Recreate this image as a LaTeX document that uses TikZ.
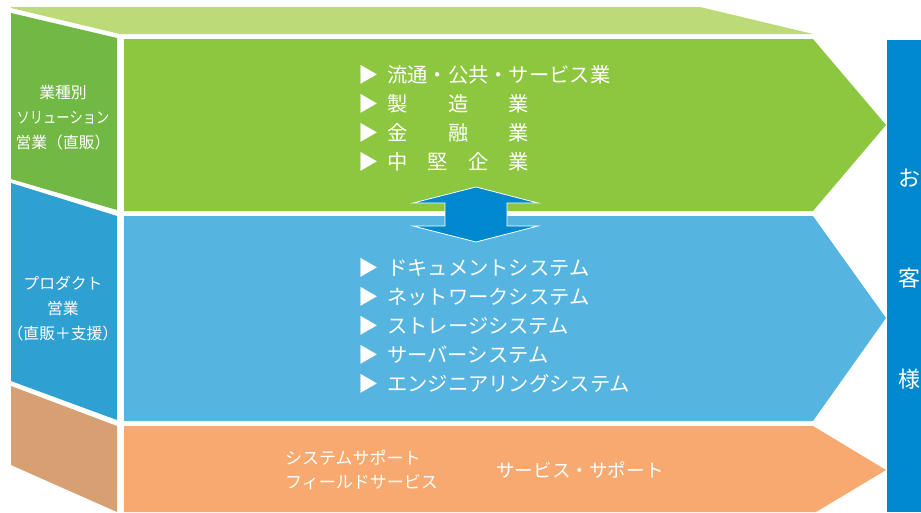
\documentclass[tikz,border=0pt]{standalone}
\usepackage{fontspec}
\setmainfont{Noto Sans CJK JP}
\definecolor{bandgreen}{HTML}{BDDA78}
\definecolor{sidegreen}{HTML}{72B844}
\definecolor{maingreen}{HTML}{8DC63F}
\definecolor{sideblue}{HTML}{2FA0D2}
\definecolor{mainblue}{HTML}{55B5E0}
\definecolor{sideorange}{HTML}{D7A072}
\definecolor{mainorange}{HTML}{F8A96F}
\definecolor{deepblue}{HTML}{0088CE}
\begin{document}
\begin{tikzpicture}[x=1pt,y=-1pt,
  txt/.style={text=white,inner sep=0pt},
  item/.style={txt,anchor=west,font=\fontsize{20.3}{22}\selectfont},
  side/.style={txt,align=center,font=\fontsize{15.8}{25}\selectfont},
  cust/.style={txt,font=\fontsize{22}{24}\selectfont}]
\useasboundingbox (0,0) rectangle (921,512);
\fill[white] (0,0) rectangle (921,512);
% top band and side panels
\fill[bandgreen] (11,7) -- (700,7) -- (813,34) -- (120,34) -- (11,8) -- cycle;
\fill[sidegreen] (11,13) -- (117,38) -- (117,210) -- (11,179) -- cycle;
\fill[sideblue] (11,183) -- (117,216) -- (117,420) -- (11,381) -- cycle;
\fill[sideorange] (11,386) -- (117,426) -- (117,512) -- (11,465) -- cycle;
% main arrows
\fill[maingreen] (124,39) -- (813,39) -- (886,125) -- (813,211) -- (124,211) -- cycle;
\fill[mainblue] (124,216) -- (813,216) -- (886,318) -- (813,421) -- (124,421) -- cycle;
\fill[mainorange] (124,426) -- (813,426) -- (886,470) -- (816,512) -- (124,512) -- cycle;
% customer bar
\fill[deepblue] (887,40) rectangle (921,512);
% double arrow
\filldraw[fill=deepblue,draw=white,line width=0.8pt]
  (476,187) -- (538,203) -- (507,203) -- (507,226) -- (538,226) -- (476,242)
  -- (413,226) -- (445,226) -- (445,203) -- (413,203) -- cycle;
% side texts
\node[side] (s1) at (63,118) {業種別\\\scalebox{0.84}[1]{ソリューション}\\営業（直販）};
\node[side] (s2) at (63,309) {プロダクト\\営業\\（直販＋支援）};
% green list
\node[item] (g1) at (358,75) {\makebox[29pt][l]{▶}流通・公共・サービス業};
\node[item] (g2) at (358,104) {\makebox[29pt][l]{▶}製　　造　　業};
\node[item] (g3) at (358,133) {\makebox[29pt][l]{▶}金　　融　　業};
\node[item] (g4) at (358,162) {\makebox[29pt][l]{▶}中　堅　企　業};
% blue list
\node[item] (b1) at (358,268) {\makebox[29pt][l]{▶}ドキュメントシステム};
\node[item] (b2) at (358,297) {\makebox[29pt][l]{▶}ネットワークシステム};
\node[item] (b3) at (358,326) {\makebox[29pt][l]{▶}ストレージシステム};
\node[item] (b4) at (358,355) {\makebox[29pt][l]{▶}サーバーシステム};
\node[item] (b5) at (358,384) {\makebox[29pt][l]{▶}エンジニアリングシステム};
% orange texts
\node[txt,anchor=west,align=left,font=\fontsize{17}{24}\selectfont] (o1) at (285,470) {システムサポート\\フィールドサービス};
\node[txt,anchor=west,font=\fontsize{18.6}{22}\selectfont] (o2) at (496,470) {サービス・サポート};
% customer
\node[cust] (c1) at (909,178) {お};
\node[cust] (c2) at (909,278) {客};
\node[cust] (c3) at (909,379) {様};
\end{tikzpicture}
\end{document}
